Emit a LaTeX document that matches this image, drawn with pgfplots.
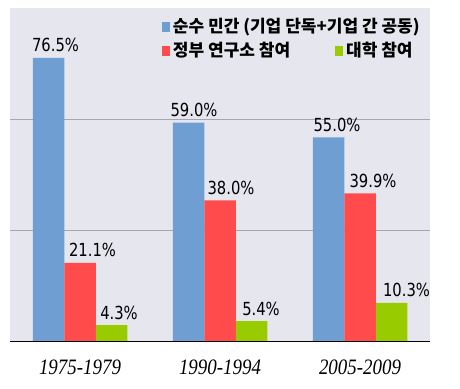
\documentclass[border=0pt]{standalone}
\usepackage{pgfplots}
\pgfplotsset{compat=1.18}
\usepackage{pgfplotstable}
\usepackage{fontspec}
\newfontfamily\lblfont[FakeStretch=0.82]{DejaVu Sans}
\newfontfamily\tickfont[FakeStretch=0.86]{Liberation Serif}
\newfontfamily\kr{Noto Sans CJK KR}
\definecolor{cbg}{HTML}{E5E6EE}
\definecolor{cblue}{HTML}{6E9ED2}
\definecolor{cred}{HTML}{FF4B4B}
\definecolor{cgreen}{HTML}{99CC00}
\definecolor{cgrid}{HTML}{A6A6AE}

\pgfplotstableread{
x y dx
1 76.5 7
2 59.0 5.5
3 55.0 8.5
}\tblue
\pgfplotstableread{
x y dx
1 21.1 12.5
2 38.0 11
3 39.9 13
}\tred
\pgfplotstableread{
x y dx
1 4.3 7.5
2 5.4 9.5
3 10.3 15
}\tgreen

\begin{document}
\begin{tikzpicture}
\begin{axis}[
  scale only axis,
  width=420pt, height=333pt,
  xmin=0.5, xmax=3.5, ymin=0, ymax=90,
  ybar=0pt, bar width=31.5pt,
  axis background/.style={fill=cbg},
  axis x line*=bottom, axis y line*=left,
  x axis line style={-, black, line width=0.8pt},
  y axis line style={draw=none},
  xtick={1,2,3},
  xticklabels={1975-1979,1990-1994,2005-2009},
  xticklabel style={font=\tickfont\itshape\fontsize{22}{24}\selectfont, anchor=base, yshift=-34pt},
  ytick={30,60}, yticklabels={},
  ymajorgrids, grid style={cgrid, line width=0.7pt},
  major tick length=0pt,
  nodes near coords={\pgfmathprintnumber[fixed,precision=1,fixed zerofill,assume math mode=true]{\pgfplotspointmeta}\%},
  visualization depends on={\thisrow{dx} \as \dx},
  every node near coord/.append style={font=\lblfont\fontsize{18}{20}\selectfont, anchor=south, inner sep=0pt, yshift=5.5pt, xshift=\dx pt, text=black},
]
\addplot[fill=cblue, draw=none] table[x=x,y=y] {\tblue};
\addplot[fill=cred, draw=none] table[x=x,y=y] {\tred};
\addplot[fill=cgreen, draw=none] table[x=x,y=y] {\tgreen};

\node[anchor=base west, inner sep=0pt, font=\kr\bfseries\fontsize{17}{19}\selectfont] at (axis cs:1.584,83.5)
  {\textcolor{cblue}{\rule[0.5pt]{8pt}{10pt}}\hspace{3pt}순수 민간 (기업 단독+기업 간 공동)};
\node[anchor=base west, inner sep=0pt, font=\kr\bfseries\fontsize{17}{19}\selectfont] at (axis cs:1.584,76.8)
  {\textcolor{cred}{\rule[0.5pt]{8pt}{10pt}}\hspace{3pt}정부 연구소 참여};
\node[anchor=base west, inner sep=0pt, font=\kr\bfseries\fontsize{17}{19}\selectfont] at (axis cs:2.821,76.8)
  {\textcolor{cgreen}{\rule[0.5pt]{8pt}{10pt}}\hspace{3pt}대학 참여};
\end{axis}
\pgfresetboundingbox
\path ([xshift=-10pt,yshift=-48pt]current axis.south west) rectangle ([xshift=30pt,yshift=8pt]current axis.north east);
\end{tikzpicture}
\end{document}
